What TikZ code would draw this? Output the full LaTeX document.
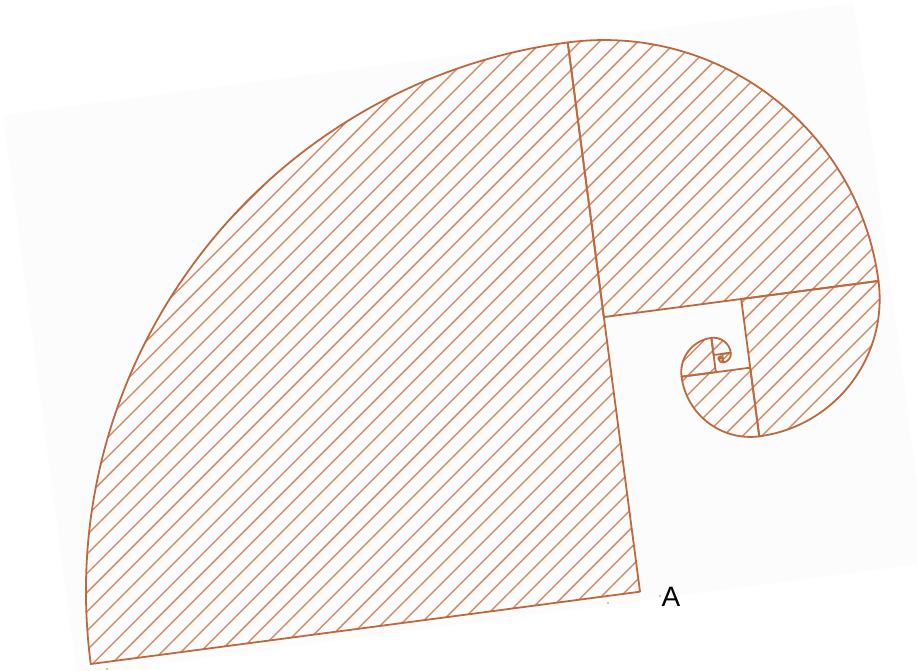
\documentclass[tikz,border=0pt]{standalone}
\usepackage{fontspec}
\setmainfont{Liberation Sans}
\definecolor{spiralc}{RGB}{190,104,62}
\definecolor{hatchc}{RGB}{210,142,108}
\definecolor{bgc}{RGB}{252,252,252}
\tikzset{
  edgeline/.style={draw=spiralc, line width=1.8pt, line join=round},
  hatchline/.style={draw=hatchc, line width=1.45pt},
  frame/.style={shift={(640,-591.7)}, rotate=7.5},
  speck/.style={fill=gray!55, draw=none}
}
\newcommand\sector[4]{%
  \begin{scope}
    \clip[frame] (#1,#2) -- ++(#3:#4pt) arc[start angle=#3, end angle=#3-90, radius=#4pt] -- cycle;
    \foreach \k in {22,...,70}
      \draw[hatchline] ({7.5+19.2*\k-700},-700) -- ({7.5+19.2*\k+50},50);
  \end{scope}
  \draw[edgeline, frame] (#1,#2) -- ++(#3:#4pt) arc[start angle=#3, end angle=#3-90, radius=#4pt] -- cycle;
}
\begin{document}
\begin{tikzpicture}[x=1pt, y=1pt]
  \useasboundingbox (0,0) rectangle (917,-671);
  \clip (0,0) rectangle (917,-671);
  % faint background sheet
  \fill[bgc] (3,-115) coordinate (bg1) -- (854,-3) coordinate (bg2)
    -- (927.7,-563) coordinate (bg3) -- (76.7,-674.8) coordinate (bg4) -- cycle;
  % spiral sectors (radius halves each quarter turn)
  \sector{0}{0}{180}{554}
  \sector{0}{277}{90}{277}
  \sector{138.5}{277}{0}{138.5}
  \sector{138.5}{207.75}{-90}{69.25}
  \sector{103.875}{207.75}{180}{34.625}
  \sector{103.875}{225.0625}{90}{17.3125}
  \sector{112.53125}{225.0625}{0}{8.65625}
  \sector{112.53125}{220.734}{-90}{4.328}
  \sector{110.367}{220.734}{180}{2.164}
  \sector{110.367}{221.816}{90}{1.082}
  % label
  \node[font=\fontsize{28}{30}\selectfont, anchor=base, inner sep=0pt] (A) at (671,-606.7) {A};
  % tiny specks
  \fill[speck] (608,-603) circle (1.1);
  \fill[speck] (660,-596) circle (1.1);
  \fill[speck] (107,-669) circle (1.1);
\end{tikzpicture}
\end{document}
